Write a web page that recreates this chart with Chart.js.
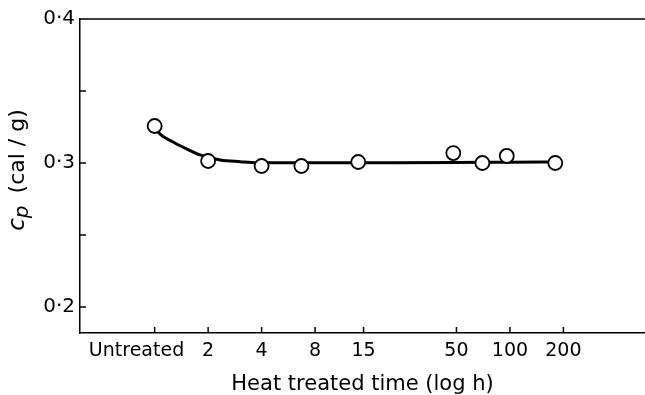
<!DOCTYPE html>
<html>
<head>
<meta charset="utf-8">
<script src="https://cdn.jsdelivr.net/npm/chart.js@4"></script>
<style>
  html, body { margin: 0; padding: 0; background: #fff; overflow: hidden; }
  canvas { display: block; }
</style>
</head>
<body>
<canvas id="cp" width="645" height="395"></canvas>
<script>
// measured specific heat vs heat treated time (h), 1 = untreated
const hours = [1, 2, 4, 6.7, 14, 48, 70, 96, 180];
const cpValues = [0.3257, 0.3014, 0.2979, 0.2979, 0.3007, 0.3069, 0.3, 0.3049, 0.3];

// hand-drawn fitted curve through the points
const fitHours = [1, 1.046, 1.27, 1.52, 1.8, 2.34, 3.03, 3.77, 8, 15, 50, 100, 180];
const fitCp = [0.3257, 0.3215, 0.3146, 0.3097, 0.3056, 0.3021, 0.3009, 0.3002, 0.3002, 0.3002, 0.3003, 0.3006, 0.3007];

const xTicks = [1, 2, 4, 8, 15, 50, 100, 200];
// trailing spaces push "Untreated" left of its tick, as in the original
const xTickLabels = ["Untreated      ", "2", "4", "8", "15", "50", "100", "200"];
const yTicks = [0.2, 0.3, 0.4];
const yMinorTicks = [0.25, 0.35];

const FONT = "'DejaVu Sans', sans-serif";

// inside tick marks, top frame line and the c_p axis title
const frameTicks = {
  id: "frameTicks",
  afterDraw(chart) {
    const { ctx, chartArea: a, scales: { x, y } } = chart;
    ctx.save();
    ctx.strokeStyle = "#000";
    ctx.lineWidth = 1.5;
    ctx.beginPath();
    const top = y.getPixelForValue(0.4);
    ctx.moveTo(a.left, top);
    ctx.lineTo(a.right, top);
    for (const v of yTicks.concat(yMinorTicks)) {
      const py = y.getPixelForValue(v);
      ctx.moveTo(a.left, py);
      ctx.lineTo(a.left + 6, py);
    }
    for (const v of xTicks) {
      const px = x.getPixelForValue(v);
      ctx.moveTo(px, a.bottom);
      ctx.lineTo(px, a.bottom - 6);
    }
    ctx.stroke();

    // y title: italic c with subscript p, then units
    ctx.translate(18, 170);
    ctx.rotate(-Math.PI / 2);
    ctx.fillStyle = "#000";
    ctx.textBaseline = "middle";
    const f1 = "italic 23px " + FONT, f2 = "italic 20px " + FONT, f3 = "22px " + FONT;
    ctx.font = f1; const wc = ctx.measureText("c").width;
    ctx.font = f2; const wp = ctx.measureText("p").width;
    ctx.font = f3; const wu = ctx.measureText(" (cal / g)").width;
    let cx = -(wc + wp + 5 + wu) / 2;
    ctx.font = f1; ctx.fillText("c", cx, 0); cx += wc;
    ctx.font = f2; ctx.fillText("p", cx, 5); cx += wp + 5;
    ctx.font = f3; ctx.fillText(" (cal / g)", cx, 0);
    ctx.restore();
  }
};

new Chart(document.getElementById("cp"), {
  type: "scatter",
  data: {
    datasets: [
      {
        label: "cp",
        data: hours.map((h, i) => ({ x: h, y: cpValues[i] })),
        pointRadius: 7,
        pointHoverRadius: 7,
        pointBorderWidth: 1.8,
        pointBackgroundColor: "#fff",
        pointBorderColor: "#000"
      },
      {
        label: "fit",
        data: fitHours.map((h, i) => ({ x: h, y: fitCp[i] })),
        showLine: true,
        borderColor: "#000",
        borderWidth: 3,
        pointRadius: 0,
        cubicInterpolationMode: "monotone"
      }
    ]
  },
  options: {
    responsive: false,
    animation: false,
    layout: { autoPadding: false, padding: { top: 19, right: 0, left: 0, bottom: 0 } },
    plugins: { legend: { display: false }, tooltip: { enabled: false } },
    scales: {
      x: {
        type: "logarithmic",
        min: 0.38,
        max: 576,
        afterFit: (s) => { s.height = 62; },
        afterBuildTicks: (s) => { s.ticks = xTicks.map(v => ({ value: v })); },
        grid: { display: false, drawTicks: false },
        border: { display: true, color: "#000", width: 1.5 },
        ticks: {
          autoSkip: false,
          maxRotation: 0,
          padding: 7,
          color: "#000",
          font: { family: FONT, size: 19 },
          callback: (v) => xTickLabels[xTicks.indexOf(v)]
        },
        title: {
          display: true,
          text: "Heat treated time (log h)",
          color: "#000",
          font: { family: FONT, size: 21, lineHeight: 1.0 },
          padding: { top: 0, bottom: 0 }
        }
      },
      y: {
        min: 0.18194,
        max: 0.4,
        afterFit: (s) => { s.width = 80; },
        afterBuildTicks: (s) => { s.ticks = yTicks.map(v => ({ value: v })); },
        grid: { display: false, drawTicks: false },
        border: { display: true, color: "#000", width: 1.5 },
        ticks: {
          padding: 5,
          color: "#000",
          font: { family: FONT, size: 20 },
          callback: (v) => v.toFixed(1).replace(".", "\u00b7")
        },
        title: { display: false }
      }
    }
  },
  plugins: [frameTicks]
});
</script>
</body>
</html>
